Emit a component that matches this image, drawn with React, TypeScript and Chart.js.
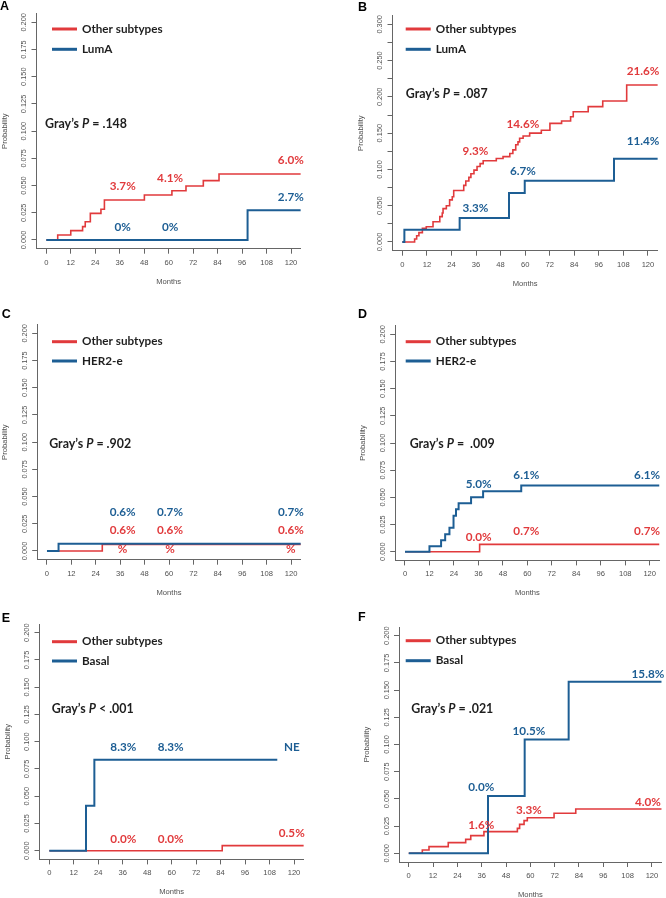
import React, { useEffect, useRef } from 'react';
import { Chart, registerables } from 'chart.js';
Chart.register(...registerables);

// ---------- colours / fonts ----------
const RED = '#E13A3C';
const BLUE = '#1D5E94';
const AXIS = '#666666';
const TICKTXT = '#505050';
const TEXT = '#1e1e1e';
const SANS = '"Liberation Sans", Arial, sans-serif';
const BOLD = 'Lato, "Open Sans", sans-serif';

// ---------- shared axis data ----------
const X_TICKS = [0, 12, 24, 36, 48, 60, 72, 84, 96, 108, 120];
const Y_TICKS_02 = [0, 0.025, 0.05, 0.075, 0.1, 0.125, 0.15, 0.175, 0.2];
const Y_TICKS_03 = [0, 0.025, 0.05, 0.075, 0.1, 0.125, 0.15, 0.175, 0.2, 0.225, 0.25, 0.275, 0.3];
const Y_LABELS_03 = [0, 0.05, 0.1, 0.15, 0.2, 0.25, 0.3];
const OTHER_NAME = 'Other subtypes';

// ---------- Panel A : LumA ----------
const A_group = 'LumA';
const A_pText = '= .148';
const A_redT = [0, 5.6, 12, 17.8, 19.1, 21.6, 26.8, 28.5, 48.1, 61.6, 68.5, 77.0, 84.7, 124.8];
const A_redP = [0, 0.0046, 0.0086, 0.0123, 0.0168, 0.0245, 0.0282, 0.0368, 0.0414, 0.0453, 0.0496, 0.0545, 0.0606, 0.0606];
const A_blueT = [0, 98.7, 124.8];
const A_blueP = [0, 0.0273, 0.0273];
const A_redLabels = ['3.7%', '4.1%', '6.0%'];
const A_blueLabels = ['0%', '0%', '2.7%'];

// ---------- Panel B : LumA ----------
const B_group = 'LumA';
const B_pText = '= .087';
const B_redT = [0, 6.0, 7.0, 8.1, 9.8, 11.7, 15.0, 18.3, 19.5, 19.9, 21.5, 23.1, 24.4, 25.1, 30.0, 31.0, 32.5, 33.5, 35.0, 36.5, 38.0, 39.5, 45.9, 49.2, 52.5, 54.0, 55.4, 56.5, 57.3, 59.0, 62.2, 67.9, 72.1, 77.8, 82.2, 83.5, 90.8, 97.9, 109.6, 124.8];
const B_redP = [0, 0.0041, 0.0087, 0.0129, 0.0188, 0.021, 0.028, 0.035, 0.04, 0.046, 0.05, 0.058, 0.0624, 0.071, 0.078, 0.084, 0.089, 0.094, 0.099, 0.104, 0.108, 0.112, 0.115, 0.1176, 0.122, 0.127, 0.134, 0.138, 0.143, 0.146, 0.15, 0.154, 0.1635, 0.1667, 0.1727, 0.1795, 0.1865, 0.1943, 0.2163, 0.2163];
const B_blueT = [0, 1.0, 28.0, 52.1, 59.8, 103.4, 124.8];
const B_blueP = [0, 0.0168, 0.033, 0.0674, 0.0844, 0.1147, 0.1147];
const B_redLabels = ['9.3%', '14.6%', '21.6%'];
const B_blueLabels = ['3.3%', '6.7%', '11.4%'];

// ---------- Panel C : HER2-e ----------
const C_group = 'HER2-e';
const C_pText = '= .902';
const C_redT = [0, 27.2, 124.8];
const C_redP = [0, 0.0061, 0.0061];
const C_blueT = [0, 5.7, 124.8];
const C_blueP = [0, 0.0067, 0.0067];
const C_redLabels = ['0.6%', '0.6%', '0.6%', '%', '%', '%'];
const C_blueLabels = ['0.6%', '0.7%', '0.7%'];

// ---------- Panel D : HER2-e ----------
const D_group = 'HER2-e';
const D_pText = '=  .009';
const D_redT = [0, 36.6, 124.8];
const D_redP = [0, 0.0067, 0.0067];
const D_blueT = [0, 12.0, 17.7, 19.7, 21.8, 23.8, 25.0, 26.3, 32.4, 38.3, 57.0, 124.8];
const D_blueP = [0, 0.005, 0.0105, 0.016, 0.022, 0.033, 0.039, 0.0445, 0.05, 0.0555, 0.061, 0.061];
const D_redLabels = ['0.0%', '0.7%', '0.7%'];
const D_blueLabels = ['5.0%', '6.1%', '6.1%'];

// ---------- Panel E : Basal ----------
const E_group = 'Basal';
const E_pText = '< .001';
const E_redT = [0, 84.8, 124.8];
const E_redP = [0, 0.0046, 0.0046];
const E_blueT = [0, 18.0, 22.1, 111.8];
const E_blueP = [0, 0.0413, 0.0835, 0.0835];
const E_redLabels = ['0.0%', '0.0%', '0.5%'];
const E_blueLabels = ['8.3%', '8.3%', 'NE'];

// ---------- Panel F : Basal ----------
const F_group = 'Basal';
const F_pText = '= .021';
const F_redT = [0, 6.7, 10.0, 19.5, 28.1, 30.6, 37.1, 53.6, 54.7, 56.9, 58.5, 71.7, 82.4, 124.8];
const F_redP = [0, 0.003, 0.0061, 0.0098, 0.0128, 0.0162, 0.0199, 0.0229, 0.0266, 0.03, 0.0327, 0.0368, 0.0407, 0.0407];
const F_blueT = [0, 39.1, 57.2, 78.9, 124.8];
const F_blueP = [0, 0.0527, 0.1047, 0.1577, 0.1577];
const F_redLabels = ['1.6%', '3.3%', '4.0%'];
const F_blueLabels = ['0.0%', '10.5%', '15.8%'];

// ---------- layout ----------
type Pt = [number, number];
type Panel = {
  letter: string;
  left: number; top: number; w: number; h: number;
  area: [number, number, number, number]; // L T R B inside canvas
  yMax: number; yTicks: number[]; yLabels: number[];
  redT: number[]; redP: number[]; blueT: number[]; blueP: number[];
  group: string; pText: string; pPos: Pt;
  legendX: number; legendY: Pt; letterPos: Pt;
  redLabels: string[]; redPos: Pt[];
  blueLabels: string[]; bluePos: Pt[];
};

const PANELS: Panel[] = [
  {
    letter: 'A', left: 0, top: 0, w: 333, h: 300, area: [36.5, 13.6, 300.8, 248.7],
    yMax: 0.2, yTicks: Y_TICKS_02, yLabels: Y_TICKS_02,
    redT: A_redT, redP: A_redP, blueT: A_blueT, blueP: A_blueP,
    group: A_group, pText: A_pText, pPos: [-0.6, 0.107],
    legendX: 52, legendY: [29, 49.3], letterPos: [0, 9.5],
    redLabels: A_redLabels, redPos: [[37.5, 0.049], [60.7, 0.0567], [119.9, 0.0735]],
    blueLabels: A_blueLabels, bluePos: [[37.5, 0.0113], [60.7, 0.0113], [119.9, 0.0389]],
  },
  {
    letter: 'B', left: 333, top: 0, w: 333, h: 300, area: [59.5, 15.6, 324.8, 250.7],
    yMax: 0.3, yTicks: Y_TICKS_03, yLabels: Y_LABELS_03,
    redT: B_redT, redP: B_redP, blueT: B_blueT, blueP: B_blueP,
    group: B_group, pText: B_pText, pPos: [1.7, 0.2035],
    legendX: 72.7, legendY: [29, 49.3], letterPos: [25, 10.7],
    redLabels: B_redLabels, redPos: [[35.7, 0.1254], [58.9, 0.1626], [117.6, 0.2347]],
    blueLabels: B_blueLabels, bluePos: [[35.7, 0.0464], [58.9, 0.0978], [117.6, 0.1382]],
  },
  {
    letter: 'C', left: 0, top: 300, w: 333, h: 300, area: [37.2, 24.6, 300.8, 259.7],
    yMax: 0.2, yTicks: Y_TICKS_02, yLabels: Y_TICKS_02,
    redT: C_redT, redP: C_redP, blueT: C_blueT, blueP: C_blueP,
    group: C_group, pText: C_pText, pPos: [1.1, 0.0983],
    legendX: 52, legendY: [41.7, 61], letterPos: [1.7, 18.3],
    redLabels: C_redLabels, redPos: [[37.2, 0.0193], [60.5, 0.0193], [119.9, 0.0193], [37.2, 0.0016], [60.5, 0.0016], [119.9, 0.0016]],
    blueLabels: C_blueLabels, bluePos: [[37.2, 0.0356], [60.5, 0.0356], [119.9, 0.0356]],
  },
  {
    letter: 'D', left: 333, top: 300, w: 333, h: 300, area: [62.2, 25.6, 326.5, 260.4],
    yMax: 0.2, yTicks: Y_TICKS_02, yLabels: Y_TICKS_02,
    redT: D_redT, redP: D_redP, blueT: D_blueT, blueP: D_blueP,
    group: D_group, pText: D_pText, pPos: [2.3, 0.0991],
    legendX: 72.7, legendY: [41.7, 61], letterPos: [25, 18.3],
    redLabels: D_redLabels, redPos: [[36.1, 0.0132], [59.5, 0.0184], [118.7, 0.0184]],
    blueLabels: D_blueLabels, bluePos: [[36.1, 0.0623], [59.5, 0.0699], [118.7, 0.0699]],
  },
  {
    letter: 'E', left: 0, top: 600, w: 333, h: 298, area: [39.5, 24, 303.8, 259.4],
    yMax: 0.2, yTicks: Y_TICKS_02, yLabels: Y_TICKS_02,
    redT: E_redT, redP: E_redP, blueT: E_blueT, blueP: E_blueP,
    group: E_group, pText: E_pText, pPos: [1.2, 0.1303],
    legendX: 52, legendY: [41.7, 61], letterPos: [1.7, 21.7],
    redLabels: E_redLabels, redPos: [[36.3, 0.0107], [59.5, 0.0107], [118.9, 0.016]],
    blueLabels: E_blueLabels, bluePos: [[36.3, 0.0949], [59.5, 0.0949], [118.9, 0.0949]],
  },
  {
    letter: 'F', left: 333, top: 600, w: 333, h: 298, area: [66, 27, 328.7, 262],
    yMax: 0.2, yTicks: Y_TICKS_02, yLabels: Y_TICKS_02,
    redT: F_redT, redP: F_redP, blueT: F_blueT, blueP: F_blueP,
    group: F_group, pText: F_pText, pPos: [1.3, 0.1324],
    legendX: 72.7, legendY: [40.7, 60.7], letterPos: [25, 21],
    redLabels: F_redLabels, redPos: [[35.8, 0.0254], [59.3, 0.0392], [118, 0.0471]],
    blueLabels: F_blueLabels, bluePos: [[35.8, 0.0607], [59.3, 0.1118], [118, 0.1648]],
  },
];

const Y_AXIS_W = 30;
const X_AXIS_H = 30;

function makeOverlay(p: Panel) {
  return {
    id: 'overlay' + p.letter,
    afterDraw(chart: any) {
      const ctx: CanvasRenderingContext2D = chart.ctx;
      const xs = chart.scales.x;
      const ys = chart.scales.y;
      const a = chart.chartArea;
      ctx.save();
      // tick labels
      ctx.fillStyle = TICKTXT;
      ctx.textAlign = 'center';
      ctx.textBaseline = 'middle';
      ctx.font = `7.4px ${SANS}`;
      for (const v of p.yLabels) {
        const y = ys.getPixelForValue(v);
        ctx.save();
        ctx.translate(a.left - 12.5, y);
        ctx.rotate(-Math.PI / 2);
        ctx.fillText(v.toFixed(3), 0, 0);
        ctx.restore();
      }
      ctx.font = `7.6px ${SANS}`;
      for (const v of X_TICKS) {
        ctx.fillText(String(v), xs.getPixelForValue(v), a.bottom + 14);
      }
      // axis titles
      ctx.font = `7.6px ${SANS}`;
      ctx.fillText('Months', (a.left + a.right) / 2, a.bottom + 33);
      ctx.save();
      ctx.translate(a.left - 32, (a.top + a.bottom) / 2);
      ctx.rotate(-Math.PI / 2);
      ctx.fillText('Probability', 0, 0);
      ctx.restore();

      // legend
      const items: [string, string, number][] = [
        [OTHER_NAME, RED, p.legendY[0]],
        [p.group, BLUE, p.legendY[1]],
      ];
      for (const [name, col, y] of items) {
        ctx.strokeStyle = col;
        ctx.lineWidth = 3;
        ctx.beginPath();
        ctx.moveTo(p.legendX, y);
        ctx.lineTo(p.legendX + 25, y);
        ctx.stroke();
        ctx.fillStyle = TEXT;
        ctx.textAlign = 'left';
        ctx.font = `bold 11.7px ${BOLD}`;
        ctx.fillText(name, p.legendX + 30, y);
      }

      // Gray's P
      let px = xs.getPixelForValue(p.pPos[0]);
      const py = ys.getPixelForValue(p.pPos[1]);
      ctx.fillStyle = TEXT;
      ctx.textAlign = 'left';
      ctx.font = `bold 12.4px ${BOLD}`;
      ctx.fillText('Gray\u2019s ', px, py);
      px += ctx.measureText('Gray\u2019s ').width;
      ctx.font = `italic bold 12.4px ${BOLD}`;
      ctx.fillText('P', px, py);
      px += ctx.measureText('P').width;
      ctx.font = `bold 12.4px ${BOLD}`;
      ctx.fillText(' ' + p.pText, px, py);

      // annotations
      ctx.textAlign = 'center';
      ctx.font = `bold 11.7px ${BOLD}`;
      ctx.fillStyle = RED;
      p.redLabels.forEach((t, i) => {
        const [mx, my] = p.redPos[i];
        ctx.fillText(t, xs.getPixelForValue(mx), ys.getPixelForValue(my));
      });
      ctx.fillStyle = BLUE;
      p.blueLabels.forEach((t, i) => {
        const [mx, my] = p.bluePos[i];
        ctx.fillText(t, xs.getPixelForValue(mx), ys.getPixelForValue(my));
      });

      // panel letter
      ctx.fillStyle = '#000';
      ctx.textAlign = 'left';
      ctx.textBaseline = 'alphabetic';
      ctx.font = `bold 12.5px ${SANS}`;
      ctx.fillText(p.letter, p.letterPos[0], p.letterPos[1]);
      ctx.restore();
    },
  };
}

function PanelChart({ p }: { p: Panel }) {
  const ref = useRef<HTMLCanvasElement | null>(null);
  useEffect(() => {
    if (!ref.current) return;
    const [L, T, R, B] = p.area;
    const pts = (t: number[], v: number[]) => t.map((x, i) => ({ x, y: v[i] }));
    const yTicks = p.yTicks;
    const chart = new Chart(ref.current, {
      type: 'line',
      data: {
        datasets: [
          {
            label: OTHER_NAME,
            data: pts(p.redT, p.redP),
            borderColor: RED,
            borderWidth: 1.6,
            stepped: 'before',
            pointRadius: 0,
            fill: false,
            order: 1,
          },
          {
            label: p.group,
            data: pts(p.blueT, p.blueP),
            borderColor: BLUE,
            borderWidth: 2,
            stepped: 'before',
            pointRadius: 0,
            fill: false,
            order: 0,
          },
        ],
      },
      options: {
        animation: false,
        responsive: false,
        maintainAspectRatio: false,
        layout: {
          padding: { left: L - Y_AXIS_W, top: T, right: p.w - R, bottom: p.h - B - X_AXIS_H },
        },
        plugins: { legend: { display: false }, tooltip: { enabled: false } },
        scales: {
          x: {
            type: 'linear',
            min: -4.8,
            max: 124.8,
            afterBuildTicks: (s: any) => { s.ticks = X_TICKS.map((v) => ({ value: v })); },
            afterFit: (s: any) => { s.height = X_AXIS_H; },
            ticks: { display: false },
            grid: { drawOnChartArea: false, drawTicks: true, tickLength: 5, color: AXIS, lineWidth: 1 },
            border: { display: true, color: AXIS, width: 1 },
          },
          y: {
            type: 'linear',
            min: -0.04 * p.yMax,
            max: 1.04 * p.yMax,
            afterBuildTicks: (s: any) => { s.ticks = yTicks.map((v) => ({ value: v })); },
            afterFit: (s: any) => { s.width = Y_AXIS_W; },
            ticks: { display: false },
            grid: { drawOnChartArea: false, drawTicks: true, tickLength: 5, color: AXIS, lineWidth: 1 },
            border: { display: true, color: AXIS, width: 1 },
          },
        },
      } as any,
      plugins: [makeOverlay(p)],
    });
    return () => chart.destroy();
  }, [p]);
  return (
    <canvas
      ref={ref}
      width={p.w}
      height={p.h}
      style={{ position: 'absolute', left: p.left, top: p.top, width: p.w, height: p.h }}
    />
  );
}

export default function App() {
  return (
    <div style={{ position: 'absolute', left: 0, top: 0, width: 666, height: 898, background: '#fff', overflow: 'hidden' }}>
      {PANELS.map((p) => (
        <PanelChart key={p.letter} p={p} />
      ))}
    </div>
  );
}
